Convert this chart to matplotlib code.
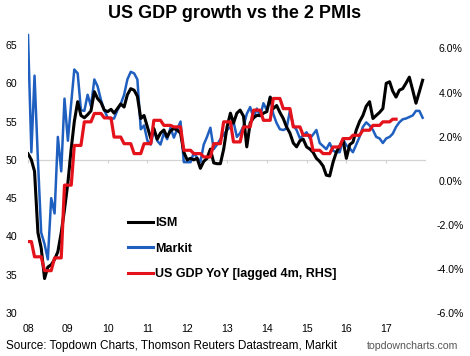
import numpy as np
import pandas as pd
import matplotlib
matplotlib.use("Agg")
import matplotlib.pyplot as plt
from matplotlib.lines import Line2D

plt.rcParams['font.family'] = ['Liberation Sans', 'DejaVu Sans']
plt.rcParams['axes.unicode_minus'] = False

# ---------------- data ----------------
start_month = "2008-01-01"

ism = [50.8, 50.0, 48.5, 40.5, 38.5, 34.5, 36.0, 36.3, 37.0, 38.0,
       40.5, 43.5, 47.0, 51.5, 55.0, 57.6, 55.8, 55.5, 55.9, 56.4,
       58.9, 58.0, 57.5, 56.5, 56.3, 56.6, 56.1, 56.7, 57.3, 56.9,
       58.5, 59.3, 59.1, 58.3, 55.4, 55.8, 54.3, 52.8, 54.1, 52.7,
       53.5, 53.9, 53.0, 53.8, 54.1, 53.9, 53.5, 51.0, 50.0, 50.2,
       50.0, 50.2, 48.9, 49.8, 50.2, 51.4, 49.6, 49.5, 49.5, 51.4,
       54.3, 56.1, 54.8, 56.1, 56.5, 55.7, 51.7, 54.8, 55.5, 55.8,
       55.8, 56.1, 56.3, 58.2, 56.7, 57.1, 56.2, 55.4, 54.3, 53.5,
       52.2, 51.7, 52.5, 52.7, 51.7, 51.4, 51.0, 50.2, 49.8, 49.2,
       48.0, 47.9, 49.7, 51.0, 51.8, 52.6, 50.2, 52.0, 52.3, 53.9,
       55.0, 55.8, 57.0, 57.6, 55.4, 55.8, 56.2, 56.7, 60.0, 60.2,
       59.0, 58.2, 59.1, 59.3, 60.0, 60.8, 59.1, 57.4, 58.9, 60.4]

markit = [66.3, 51.0, 61.0, 50.0, 40.5, 39.0, 37.0, 45.0, 43.0, 53.0,
          48.5, 58.0, 52.5, 57.5, 61.8, 61.3, 56.5, 56.4, 58.5, 57.0,
          60.5, 59.6, 57.8, 56.5, 55.5, 55.4, 55.4, 56.5, 57.3, 58.5,
          60.5, 61.5, 61.3, 60.5, 54.0, 54.5, 52.5, 52.0, 53.9, 52.5,
          52.0, 53.5, 52.7, 54.2, 52.9, 54.0, 55.0, 49.7, 49.7, 49.7,
          50.9, 50.3, 49.7, 52.0, 53.0, 54.2, 51.4, 52.0, 52.7, 53.3,
          53.9, 54.3, 55.0, 53.0, 53.5, 54.4, 56.0, 56.9, 55.5, 56.7,
          55.7, 57.4, 56.5, 58.2, 56.0, 54.8, 54.0, 53.9, 54.1, 56.4,
          54.5, 53.9, 52.8, 53.2, 53.6, 52.8, 53.3, 53.9, 52.2, 51.8,
          51.4, 52.2, 51.2, 51.0, 51.0, 52.7, 51.9, 51.5, 51.0, 52.0,
          53.0, 54.3, 54.9, 54.5, 53.9, 53.0, 52.8, 52.2, 52.8, 53.0,
          53.4, 54.3, 54.9, 55.3, 55.4, 55.6, 55.8, 56.4, 56.4, 55.5]

# US GDP YoY (%), lagged 4m, one value per quarter (shown monthly as steps)
gdp_quarterly = [-2.76, -3.45, -4.08, -3.5, -0.2, 1.6, 2.67, 3.05, 2.85, 1.98,
                 1.68, 1.23, 1.68, 2.74, 2.51, 2.44, 1.38, 1.23, 1.08, 1.68,
                 2.67, 1.76, 2.44, 3.2, 2.74, 3.73, 3.27, 2.44, 2.06, 1.38,
                 1.23, 1.53, 1.91, 2.06, 2.29, 2.51, 2.67, 2.79]
gdp_first_quarter_months = 2   # first quarter only partly shown
gdp_n_months = 112

year_labels = ["08", "09", "10", "11", "12", "13", "14", "15", "16", "17"]
left_ticks = [30, 35, 40, 45, 50, 55, 60, 65]
right_ticks = [-6, -4, -2, 0, 2, 4, 6]

# ---------------- build ----------------
months = pd.date_range(start_month, periods=len(ism), freq="MS")
gdp_monthly = np.concatenate([[gdp_quarterly[0]] * gdp_first_quarter_months,
                              np.repeat(gdp_quarterly[1:], 3)])[:gdp_n_months]
gdp_dates = months[:len(gdp_monthly)]

W, H = 470, 356
fig = plt.figure(figsize=(W / 100, H / 100), dpi=100)
ax_l, ax_r_px, ax_b, ax_t = 28, 426, 313, 33
ax = fig.add_axes([ax_l / W, 1 - ax_b / H, (ax_r_px - ax_l) / W, (ax_b - ax_t) / H])
ax2 = ax.twinx()

blue = "#1f5fc0"
red = "#e3121b"
grid_grey = "#d4d4d4"

ylo, yhi = 30, 66.57
ax.set_ylim(ylo, yhi)
ax2.set_ylim(-6, 6.70)
x0 = pd.Timestamp("2008-01-01")
x1 = pd.Timestamp("2018-01-01")
ax.set_xlim(x0, x1)

# 50-line with small year ticks
year_pos = [pd.Timestamp(f"20{y}-01-01") for y in year_labels]
ax.axhline(50, color=grid_grey, lw=0.9, zorder=1)
tick_pos = year_pos + [x1]
ax.vlines(tick_pos, 49.6, 50, color=grid_grey, lw=0.9, zorder=1)

ax.plot(months, ism, color="black", lw=2.2, zorder=3, solid_joinstyle="round")
ax.plot(months, markit, color=blue, lw=1.8, zorder=2, solid_joinstyle="round")
ax2.plot(gdp_dates, gdp_monthly, color=red, lw=2.3, zorder=4)

for a in (ax, ax2):
    for s in a.spines.values():
        s.set_visible(False)
    a.patch.set_visible(False)

ax.set_yticks(left_ticks)
ax.set_yticklabels([str(v) for v in left_ticks])
ax.tick_params(axis="y", length=0, pad=7.5, labelsize=7.6, colors="black")

ax2.set_yticks(right_ticks)
ax2.set_yticklabels([f"{v:.1f}%" for v in right_ticks])
ax2.tick_params(axis="y", length=0, pad=17.5, labelsize=7.6)
for lab in ax2.get_yticklabels():
    lab.set_horizontalalignment("center")

ax.set_xticks(year_pos)
ax.set_xticklabels(year_labels)
ax.tick_params(axis="x", length=0, pad=8, labelsize=7.6)

# legend
handles = [Line2D([], [], color="black", lw=2.2),
           Line2D([], [], color=blue, lw=2.2),
           Line2D([], [], color=red, lw=2.2)]
labels = ["ISM", "Markit", "US GDP YoY [lagged 4m, RHS]"]
fig.legend(handles, labels, loc="upper left",
           bbox_to_anchor=(128 / W, 1 - 217 / H), frameon=False,
           prop={"weight": "bold", "size": 9}, handlelength=2.0,
           handletextpad=0.15, labelspacing=1.08, borderpad=0,
           borderaxespad=0)

fig.text(235 / W, 1 - 13 / H, "US GDP growth vs the 2 PMIs", ha="center",
         va="center", fontsize=13, fontweight="bold")
fig.text(6 / W, 1 - 346 / H,
         "Source: Topdown Charts, Thomson Reuters Datastream, Markit",
         ha="left", va="center", fontsize=8.45)
fig.text(458 / W, 1 - 346 / H, "topdowncharts.com", ha="right", va="center",
         fontsize=7.6, color="#555555")

fig.savefig("out.png", dpi=100)
